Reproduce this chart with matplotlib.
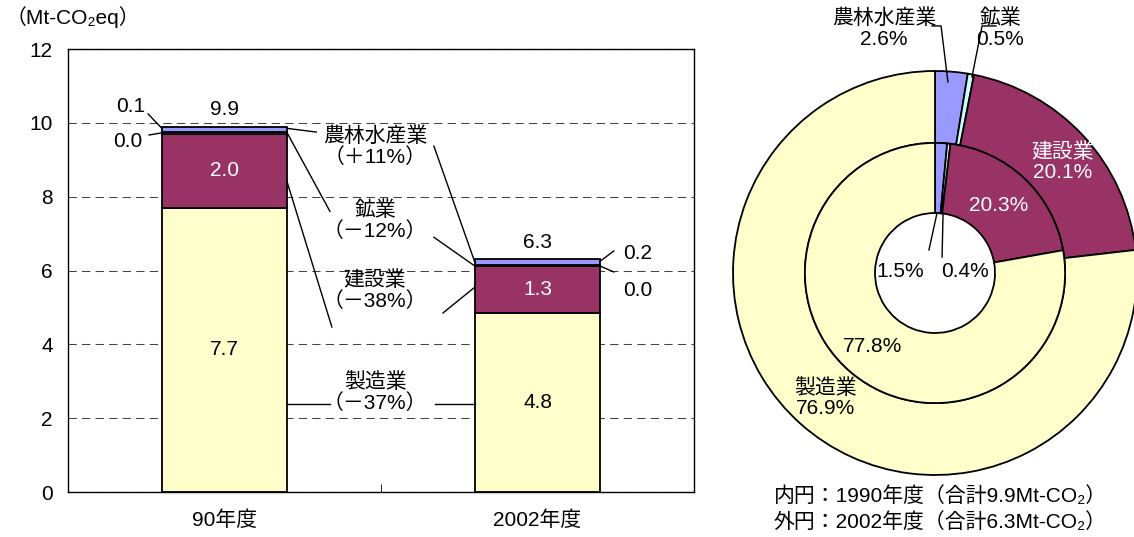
import numpy as np
import matplotlib.pyplot as plt

plt.rcParams['font.family'] = ['Liberation Sans', 'Noto Sans CJK JP', 'DejaVu Sans']
plt.rcParams['font.size'] = 15

# 部門別排出量 (Mt-CO2eq) 順番: 製造業, 建設業, 鉱業, 農林水産業
years = ['90年度', '2002年度']
sectors = ['製造業', '建設業', '鉱業', '農林水産業']
colors = ['#FFFFCC', '#993366', '#CCFFFF', '#9999FF']
emis_1990 = [7.70, 2.01, 0.04, 0.15]
emis_2002 = [4.84, 1.27, 0.03, 0.16]
totals = [9.9, 6.3]
labels_1990 = ['7.7', '2.0', '0.0', '0.1']
labels_2002 = ['4.8', '1.3', '0.0', '0.2']
changes = ['（－37%）', '（－38%）', '（－12%）', '（＋11%）']
share_1990 = [77.8, 20.3, 0.4, 1.5]
share_2002 = [76.9, 20.1, 0.5, 2.6]

LS = 1.1

fig = plt.figure(figsize=(11.34, 5.37), dpi=100)

# --- 棒グラフ ---
ax = fig.add_axes([68 / 1134, 45 / 537, 626 / 1134, 443 / 537])
x = np.arange(len(years))
w = 0.4
data = np.array([emis_1990, emis_2002]).T
bottoms = np.zeros(2)
for i in range(len(sectors)):
    ax.bar(x, data[i], w, bottom=bottoms, color=colors[i], edgecolor='black', linewidth=1.3, zorder=2)
    bottoms += data[i]
cum1 = np.cumsum(emis_1990)
cum2 = np.cumsum(emis_2002)

ax.set_xlim(-0.5, 1.5)
ax.set_ylim(0, 12)
ax.set_yticks(range(0, 13, 2))
ax.set_xticks(x)
ax.set_xticklabels(years)
ax.set_xticks([0.5], minor=True)
ax.tick_params(axis='y', length=0, pad=11)
ax.tick_params(axis='x', which='major', length=0, pad=13)
ax.tick_params(axis='x', which='minor', direction='in', length=6)
ax.yaxis.grid(True, linestyle=(0, (8, 5)), linewidth=0.75, color='#444444')
ax.set_axisbelow(True)
for s in ax.spines.values():
    s.set_linewidth(1.0)

# 値ラベル
ax.text(0, cum1[0] / 2, labels_1990[0], ha='center', va='center')
ax.text(0, (cum1[0] + cum1[1]) / 2, labels_1990[1], ha='center', va='center', color='white')
ax.text(1, cum2[0] / 2, labels_2002[0], ha='center', va='center')
ax.text(1, (cum2[0] + cum2[1]) / 2, labels_2002[1], ha='center', va='center', color='white')
ax.text(0, totals[0] + 0.45, '9.9', ha='center', va='center')
ax.text(1, totals[1] + 0.45, '6.3', ha='center', va='center')

ax.text(-0.30, 10.43, labels_1990[3], ha='center', va='center')
ax.plot([-0.244, -w / 2], [10.24, cum1[3] - 0.05], color='black', lw=1)
ax.text(-0.31, 9.5, labels_1990[2], ha='center', va='center')
ax.plot([-0.241, -w / 2], [9.67, cum1[2] - 0.02], color='black', lw=1)
ax.text(1.32, 6.45, labels_2002[3], ha='center', va='center')
ax.plot([1.244, 1 + w / 2], [6.53, cum2[3] - 0.05], color='black', lw=1)
ax.text(1.32, 5.47, labels_2002[2], ha='center', va='center')
ax.plot([1.244, 1 + w / 2], [5.96, cum2[2] - 0.02], color='black', lw=1)

# 中央の説明ラベル
mx = 0.481
ax.text(mx, 9.35, sectors[3] + '\n' + changes[3], ha='center', va='center', linespacing=LS)
ax.plot([w / 2, 0.293], [cum1[3] - 0.05, 9.75], color='black', lw=1)
ax.plot([0.669, 1 - w / 2], [9.37, cum2[3] - 0.08], color='black', lw=1)

ax.text(mx, 7.35, sectors[2] + '\n' + changes[2], ha='center', va='center', linespacing=LS)
ax.plot([w / 2, 0.337], [cum1[2] - 0.02, 7.6], color='black', lw=1)
ax.plot([0.669, 1 - w / 2], [6.9, cum2[2] - 0.02], color='black', lw=1)

ax.text(mx, 5.45, sectors[1] + '\n' + changes[1], ha='center', va='center', linespacing=LS)
ax.plot([w / 2, 0.343], [8.4, 4.47], color='black', lw=1)
ax.plot([0.698, 1 - w / 2], [4.85, 5.55], color='black', lw=1)

ax.text(mx, 2.7, sectors[0] + '\n' + changes[0], ha='center', va='center', linespacing=LS)
ax.plot([w / 2, 0.337], [2.38, 2.38], color='black', lw=1)
ax.plot([0.672, 1 - w / 2], [2.38, 2.38], color='black', lw=1)

fig.text(6 / 1134, 1 - 17 / 537, '（Mt-CO₂eq）', ha='left', va='center')

# --- 二重円グラフ ---
pie_order = [3, 2, 1, 0]
pax = fig.add_axes([733 / 1134, 62 / 537, 404 / 1134, 404 / 537])
pax.pie([share_2002[i] for i in pie_order], radius=1, startangle=90, counterclock=False,
        colors=[colors[i] for i in pie_order],
        wedgeprops=dict(width=0.356, edgecolor='black', linewidth=1.3))
pax.pie([share_1990[i] for i in pie_order], radius=0.644, startangle=90, counterclock=False,
        colors=[colors[i] for i in pie_order],
        wedgeprops=dict(width=0.347, edgecolor='black', linewidth=1.3))
pax.set_xlim(-1, 1)
pax.set_ylim(-1, 1)
pax.set_aspect('equal')

pax.text(0.63, 0.55, sectors[1] + '\n' + f'{share_2002[1]:.1f}%', ha='center', va='center',
         color='white', linespacing=LS)
pax.text(0.317, 0.332, f'{share_1990[1]:.1f}%', ha='center', va='center', color='white')
pax.text(-0.307, -0.366, f'{share_1990[0]:.1f}%', ha='center', va='center')
pax.text(-0.54, -0.62, sectors[0] + '\n' + f'{share_2002[0]:.1f}%', ha='center', va='center',
         linespacing=LS)
pax.text(-0.173, 0.005, f'{share_1990[3]:.1f}%', ha='center', va='center')
pax.text(0.149, 0.005, f'{share_1990[2]:.1f}%', ha='center', va='center')
pax.plot([-0.03, 0.01], [0.114, 0.297], color='black', lw=1)
pax.plot([0.035, 0.04], [0.079, 0.297], color='black', lw=1)

pax.text(-0.252, 1.21, sectors[3] + '\n' + f'{share_2002[3]:.1f}%', ha='center', va='center',
         linespacing=LS, clip_on=False)
pax.plot([-0.015, 0.03, 0.064], [1.223, 1.223, 0.946], color='black', lw=1, clip_on=False)
pax.text(0.322, 1.21, sectors[2] + '\n' + f'{share_2002[2]:.1f}%', ha='center', va='center',
         linespacing=LS, clip_on=False)
pax.plot([0.302, 0.233, 0.183], [1.223, 1.223, 0.970], color='black', lw=1, clip_on=False)

fig.text(940 / 1134, 1 - 496 / 537, '内円：1990年度（合計9.9Mt-CO₂）', ha='center', va='center')
fig.text(940 / 1134, 1 - 522 / 537, '外円：2002年度（合計6.3Mt-CO₂）', ha='center', va='center')

fig.savefig('out.png', dpi=100)
